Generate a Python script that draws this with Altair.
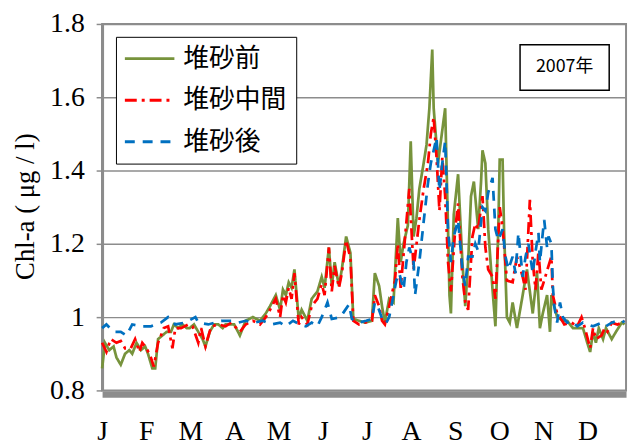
import altair as alt
import pandas as pd

series_names = ["堆砂前", "堆砂中間", "堆砂後"]
series_colors = ["#77933C", "#FF0000", "#0070C0"]
series_dashes = [[1, 0], [12, 5, 3, 5], [10, 8]]
month_labels = ["J", "F", "M", "A", "M", "J", "J", "A", "S", "O", "N", "D"]
y_ticks = [0.8, 1.0, 1.2, 1.4, 1.6, 1.8]
year_label = "2007年"
y_title = "Chl-a ( μg / l)"

before_day = [0, 2, 5, 8, 10, 13, 16, 19, 21, 24, 27, 30, 32, 35, 37, 39, 42, 45, 48, 50,
              53, 56, 59, 61, 64, 67, 70, 72, 75, 78, 81, 84, 86, 89, 92,
              96, 100, 105, 110, 114, 117, 121, 124, 126, 128, 130, 132, 134, 137, 139,
              143, 146, 150, 153, 155, 158, 160, 162, 165, 167, 170, 173, 175, 179, 183,
              188, 190, 193, 195, 197, 200, 203, 206, 208, 210, 213, 215, 217, 219, 221,
              224, 226, 228, 230, 231, 234, 236, 239, 241, 242, 243,
              245, 248, 251, 253, 255, 257, 259, 262, 264, 265, 267, 269, 272, 274, 276,
              277, 279, 280, 282, 284, 286, 289, 293, 296, 300, 303, 305,
              307, 310, 312, 313, 317, 321, 324, 328, 331, 335, 338, 340, 342, 344, 346,
              349, 351, 355, 358, 362, 364]
before_val = [0.86, 0.93, 0.91, 0.92, 0.89, 0.87, 0.90, 0.91, 0.90, 0.93, 0.91, 0.92, 0.90, 0.86, 0.86, 0.94, 0.95, 0.96, 0.96, 0.98,
              0.97, 0.98, 0.97, 0.97, 0.98, 0.96, 0.94, 0.92, 0.96, 0.98, 0.98, 0.97, 0.98, 0.98, 0.98,
              0.95, 0.99, 1.0, 0.99, 1.01, 1.03, 1.06, 1.02, 1.075, 1.06, 1.095, 1.08, 1.13, 0.995, 1.02,
              0.99, 1.05, 1.07, 1.11, 1.08, 1.19, 1.085, 1.15, 1.085, 1.13, 1.22, 1.175, 0.995, 0.99, 0.985,
              0.99, 1.12, 1.085, 1.03, 0.985, 1.05, 1.04, 1.27, 1.15, 1.20, 1.25, 1.48, 1.22, 1.27, 1.35,
              1.42, 1.47, 1.57, 1.73, 1.57, 1.42, 1.48, 1.57, 1.24, 1.06, 1.01,
              1.28, 1.39, 1.15, 1.03, 1.15, 1.33, 1.37, 1.24, 1.37, 1.455, 1.42, 1.24, 1.075, 0.975, 1.24,
              1.43, 1.43, 1.24, 1.0, 0.985, 1.04, 0.97, 1.06, 1.13, 1.01, 1.12, 0.97,
              1.01, 1.06, 0.96, 1.06, 1.0, 0.99, 0.99, 0.97, 0.97, 0.97, 0.93, 0.905, 0.96, 0.93, 0.97,
              0.94, 0.97, 0.94, 0.96, 0.985, 0.98]

middle_day = [0, 3, 6, 10, 13, 16, 20, 23, 26, 28, 31, 34, 36, 39, 43, 46, 49, 51, 55, 60,
              63, 67, 69, 72, 76, 81, 86, 90,
              96, 100, 105, 110, 114, 117, 121, 124, 126, 128, 130, 132, 134, 137, 139,
              143, 146, 150, 153, 155, 158, 160, 162, 165, 167, 170, 173, 175, 179, 183,
              188, 190, 193, 195, 197, 200, 204, 206, 208, 212, 214, 217, 221, 224, 227,
              229, 231, 233, 235, 237, 239, 241, 243,
              246, 248, 251, 253, 255, 258, 260, 262, 265, 267, 269, 272, 274, 277, 279,
              282, 286, 289, 293, 295, 298, 300, 302, 304,
              306, 308, 311, 313, 314, 317, 319, 322, 327, 331, 334, 336, 340, 342, 344,
              348, 350, 352, 355, 359, 362, 364]
middle_val = [0.93, 0.905, 0.94, 0.93, 0.935, 0.915, 0.915, 0.94, 0.905, 0.93, 0.915, 0.89, 0.865, 0.93, 0.97, 0.975, 0.915, 0.97, 0.97, 0.98,
              0.975, 0.93, 0.97, 0.92, 0.975, 0.98, 0.975, 0.985,
              0.96, 0.98, 0.99, 0.98, 1.0, 1.02, 1.05, 1.0, 1.06, 1.04, 1.08, 1.05, 1.12, 0.98, 1.0,
              0.98, 1.03, 1.05, 1.09, 1.06, 1.19, 1.07, 1.14, 1.08, 1.12, 1.21, 1.16, 0.99, 0.98, 0.985,
              0.99, 1.06, 1.03, 0.99, 0.98, 1.03, 1.10, 1.20, 1.08, 1.26, 1.35, 1.13, 1.265, 1.35, 1.42,
              1.50, 1.545, 1.435, 1.29, 1.435, 1.33, 1.15, 1.07,
              1.24, 1.31, 1.11, 1.04, 1.02, 1.22, 1.255, 1.24, 1.33, 1.19, 1.13, 1.11, 1.05, 1.30, 1.245,
              1.10, 1.095, 1.165, 1.11, 1.075, 1.32, 1.15, 1.075, 1.18,
              1.075, 1.10, 1.14, 1.165, 1.06, 1.01, 1.0, 0.98, 0.985, 0.975, 1.0, 0.975, 0.915, 0.97, 0.94,
              0.95, 0.97, 0.96, 0.985, 0.98, 0.985, 0.99]

after_day = [0, 3, 8, 13, 17, 21, 28, 34, 41, 46, 51, 58, 65, 67, 74, 83, 90, 95, 100, 106,
             112, 118, 124, 128, 133, 138, 142, 146, 150, 153, 157, 160, 166, 172, 174, 179, 184,
             188, 190, 192, 196, 198, 200, 203, 205, 207, 210, 212, 214, 217, 218, 221, 224, 227,
             229, 231, 233, 235, 237, 239, 241, 243, 245,
             248, 251, 253, 255, 258, 260, 262, 265, 267, 269, 272, 274, 276, 279, 281, 283,
             286, 288, 290, 293, 295, 297, 300, 302, 304,
             305, 307, 308, 310, 311, 313, 314, 315, 317, 319, 321, 324, 327, 331, 335, 342,
             348, 351, 355, 359, 362, 364]
after_val = [0.97, 0.98, 0.96, 0.96, 0.95, 0.98, 0.975, 0.975, 0.985, 1.0, 0.98, 0.985, 1.0, 0.985, 0.98, 0.99, 0.99, 0.985, 0.99, 0.985,
             0.99, 0.98, 0.985, 0.975, 0.99, 0.98, 0.975, 0.985, 0.975, 1.0, 1.04, 0.995, 1.0, 1.035, 0.995, 0.985, 0.99,
             0.995, 1.04, 1.03, 0.985, 0.985, 1.0, 1.06, 1.10, 1.12, 1.075, 1.15, 1.19, 1.15, 1.06, 1.15, 1.26, 1.365,
             1.42, 1.455, 1.49, 1.345, 1.42, 1.48, 1.24, 1.15, 1.22,
             1.265, 1.13, 1.085, 1.165, 1.165, 1.20, 1.18, 1.30, 1.29, 1.34, 1.38, 1.24, 1.21, 1.24, 1.165, 1.13,
             1.165, 1.12, 1.23, 1.11, 1.165, 1.20, 1.12, 1.18, 1.23,
             1.15, 1.23, 1.265, 1.19, 1.22, 1.20, 1.085, 1.03, 0.985, 1.04, 1.0, 0.985, 0.99, 0.975, 0.985, 0.975,
             0.985, 0.975, 0.985, 0.99, 0.985, 0.99]

rows = []
for name, days, vals in zip(series_names,
                            [before_day, middle_day, after_day],
                            [before_val, middle_val, after_val]):
    for d, v in zip(days, vals):
        rows.append({"day": d, "chl": v, "series": name})
df = pd.DataFrame(rows)

GRID = "#8c8c8c"
SERIF = "Liberation Serif"
SANS = "Noto Sans CJK JP"
MONTH_STEP = 30.75
month_ticks = [i * MONTH_STEP for i in range(12)]
month_expr = "[" + ",".join("'%s'" % m for m in month_labels) + "][round(datum.value / %s)]" % MONTH_STEP

legend = alt.Legend(
    title=None, orient="none", legendX=14, legendY=13,
    symbolType="M-2.5,0H2.5", symbolSize=400, symbolStrokeWidth=3, symbolOffset=12,
    labelFont=SANS, labelFontSize=26, labelColor="black", labelOffset=21, labelLimit=400,
    rowPadding=16, padding=9, strokeColor="black", fillColor="white",
)

lines = alt.Chart(df).mark_line(strokeWidth=2.75).encode(
    x=alt.X("day:Q", scale=alt.Scale(domain=[0, 365], nice=False, zero=False),
            axis=alt.Axis(values=month_ticks, labelExpr=month_expr, title=None, grid=False,
                          ticks=False, tickSize=0, domainColor=GRID, domainWidth=6, offset=4,
                          labelFont=SERIF, labelFontSize=28, labelColor="black",
                          labelPadding=24, labelFlush=False, labelOverlap=False)),
    y=alt.Y("chl:Q", scale=alt.Scale(domain=[0.8, 1.8], nice=False, zero=False),
            axis=alt.Axis(values=y_ticks,
                          labelExpr="datum.value == 1 ? '1' : format(datum.value, '.1f')",
                          title=y_title, grid=True, gridColor=GRID, gridWidth=1.5,
                          domainColor=GRID, domainWidth=3, tickColor=GRID, tickSize=6, tickWidth=1.5,
                          labelFont=SERIF, labelFontSize=28, labelColor="black", labelPadding=12,
                          titleFont=SERIF, titleFontSize=27, titleFontWeight="normal",
                          titleColor="black", titleX=-77, titleY=184, titleAngle=270,
                          titleAlign="center", titleBaseline="middle")),
    color=alt.Color("series:N", scale=alt.Scale(domain=series_names, range=series_colors), legend=legend),
    strokeDash=alt.StrokeDash("series:N", scale=alt.Scale(domain=series_names, range=series_dashes), legend=legend),
    detail="series:N",
)

year_df = pd.DataFrame({"label": [year_label]})
year_box = alt.Chart(year_df).mark_rect(fill="white", stroke="black", strokeWidth=1.5).encode(
    x=alt.value(422), x2=alt.value(512), y=alt.value(21), y2=alt.value(67)
)
year_text = alt.Chart(year_df).mark_text(font=SANS, fontSize=18, color="black").encode(
    x=alt.value(467), y=alt.value(44), text="label:N"
)

chart = alt.layer(lines, year_box, year_text).properties(
    width=529, height=370,
    autosize=alt.AutoSizeParams(type="none"),
    padding={"left": 95, "top": 14, "right": 4, "bottom": 53},
).configure_view(stroke=GRID, strokeWidth=2)

chart.save("out.html", embed_options={"renderer": "svg", "actions": False})
